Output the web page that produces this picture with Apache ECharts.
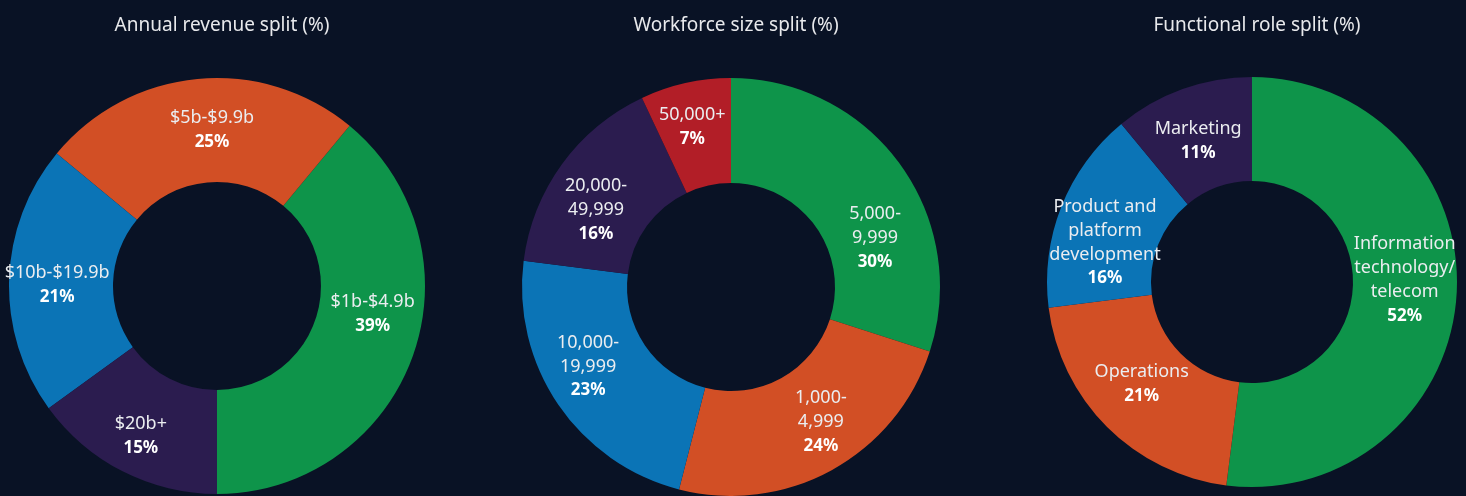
<!DOCTYPE html>
<html>
<head>
<meta charset="utf-8">
<script src="https://cdn.jsdelivr.net/npm/echarts@6/dist/echarts.min.js"></script>
<style>
	html, body { margin: 0; padding: 0; background: #091225; }
	#chart { width: 1466px; height: 496px; }
</style>
</head>
<body>
<div id="chart"></div>
<script>
// 数据
const chartTitles = ['Annual revenue split (%)', 'Workforce size split (%)', 'Functional role split (%)']

const revenueBands = ['$1b-$4.9b', '$5b-$9.9b', '$10b-$19.9b', '$20b+']
const revenueShare = [39, 25, 21, 15]

const workforceBands = ['5,000-\n9,999', '1,000-\n4,999', '10,000-\n19,999', '20,000-\n49,999', '50,000+']
const workforceShare = [30, 24, 23, 16, 7]

const roleNames = ['Information\ntechnology/\ntelecom', 'Operations', 'Product and\nplatform\ndevelopment', 'Marketing']
const roleShare = [52, 21, 16, 11]

// 配色
const GREEN = '#0e944a'
const ORANGE = '#d24f25'
const BLUE = '#0b74b6'
const PURPLE = '#2b1c4f'
const RED = '#b21e27'
const FONT = '"Noto Sans", "DejaVu Sans", sans-serif'

// 每个环形图的布局
const layouts = [
	{ center: [217, 286], radius: [104, 208], startAngle: -90, clockwise: false, colors: [GREEN, ORANGE, BLUE, PURPLE] },
	{ center: [731, 287], radius: [104, 209], startAngle: 90, clockwise: true, colors: [GREEN, ORANGE, BLUE, PURPLE, RED] },
	{ center: [1252, 282], radius: [101, 205], startAngle: 90, clockwise: true, colors: [GREEN, ORANGE, BLUE, PURPLE] },
]

// 标签微调 (px)
const labelNudge = [
	[[6, -26], [10, 2], [-1, 4], [-4, 8]],
	[[15, 45], [13, -5], [-11, -10], [-6, 17], [-4, -4]],
	[[-3, -12], [0, -8], [-2, 18], [-1, 6]],
]

const sets = [
	{ names: revenueBands, values: revenueShare },
	{ names: workforceBands, values: workforceShare },
	{ names: roleNames, values: roleShare },
]

function labelText(params) {
	const lines = params.name.split('\n').map(line => `{n|${line}}`)
	return lines.join('\n') + `\n{p|${params.value}%}`
}

const chartObj = echarts.init(document.getElementById('chart'))

chartObj.setOption({
	backgroundColor: '#091225',
	animation: false,
	title: chartTitles.map((text, i) => ({
		text,
		left: layouts[i].center[0],
		top: 11,
		textAlign: 'center',
		textStyle: {
			color: '#e8e9ec',
			fontSize: 19,
			fontWeight: 'normal',
			fontFamily: FONT,
		},
	})),
	series: sets.map((set, i) => {
		const layout = layouts[i]
		return {
			type: 'pie',
			center: layout.center,
			radius: layout.radius,
			startAngle: layout.startAngle,
			clockwise: layout.clockwise,
			avoidLabelOverlap: false,
			silent: true,
			itemStyle: { borderWidth: 0 },
			label: {
				show: true,
				position: 'inside',
				formatter: labelText,
				rich: {
					n: { color: '#ebedf0', fontSize: 18, lineHeight: 24, fontFamily: FONT },
					p: { color: '#ffffff', fontSize: 17, lineHeight: 24, fontWeight: 'bold', fontFamily: FONT },
				},
			},
			labelLine: { show: false },
			data: set.names.map((name, j) => ({
				name,
				value: set.values[j],
				itemStyle: { color: layout.colors[j] },
				label: { offset: labelNudge[i][j] },
			})),
		}
	}),
})
</script>
</body>
</html>
